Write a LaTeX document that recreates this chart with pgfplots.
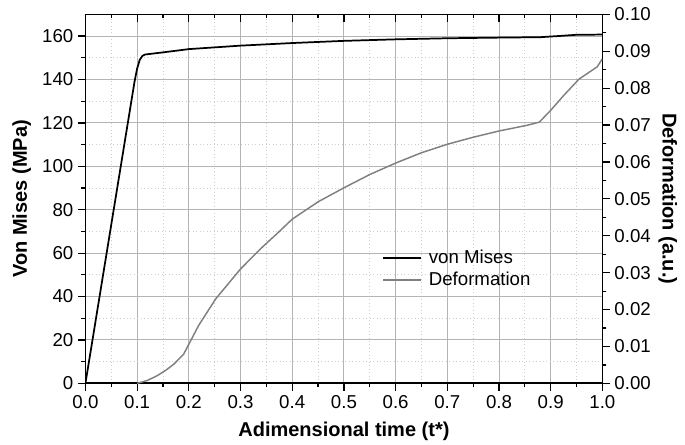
\documentclass[border=0pt]{standalone}
\usepackage{fontspec}
\setmainfont{Liberation Sans}
\usepackage{pgfplots}
\pgfplotsset{compat=1.18}

\definecolor{gridmaj}{RGB}{180,180,180}
\definecolor{gridmin}{RGB}{205,205,205}
\definecolor{defgray}{RGB}{128,128,128}

\pgfplotsset{
  common/.style={
    width=387.75pt, height=276.75pt, scale only axis,
    xmin=0, xmax=1,
    font=\fontsize{14}{16}\selectfont,
    /pgf/number format/assume math mode=true,
    major tick length=5.5pt, minor tick length=3pt,
    every tick/.style={black, line width=0.9pt},
    axis line style={line width=1.3pt},
  },
}

\begin{document}
\begin{tikzpicture}
% left axis, bottom x
\begin{axis}[common,
  ymin=0, ymax=170,
  ytick={0,20,...,160}, minor y tick num=1,
  xtick={0,0.1,...,1.0}, minor x tick num=1,
  xticklabel style={/pgf/number format/.cd,fixed,fixed zerofill,precision=1},
  axis x line*=bottom, axis y line*=left,
  tick align=outside,
  grid=both,
  major grid style={gridmaj, line width=0.7pt},
  minor grid style={gridmin, line width=0.6pt, dotted},
  xlabel={\bfseries\fontsize{15}{17}\selectfont Adimensional time (t*)},
  ylabel={\bfseries\fontsize{15}{17}\selectfont Von Mises (MPa)},
  xlabel style={yshift=-3pt},
  ylabel style={yshift=1.5pt},
  legend style={at={(0.565,0.31)}, anchor=west, draw=none, fill=none,
    row sep=1pt, font=\fontsize{14}{16}\selectfont},
  legend cell align=left,
  legend image code/.code={\draw[#1] (0pt,0pt) -- (29pt,0pt);},
]
\addplot[black, line width=1.3pt] coordinates {
  (0,0) (0.095,139) (0.1,145) (0.105,149) (0.11,150.8) (0.115,151.5)
  (0.15,152.5) (0.2,154) (0.3,155.6) (0.4,156.8) (0.5,157.8) (0.6,158.5)
  (0.7,159) (0.8,159.3) (0.88,159.5) (0.92,160.1) (0.95,160.6) (1.0,160.7)};
\addlegendentry{\hspace{3pt}von Mises}
\addlegendimage{defgray, line width=1.1pt}
\addlegendentry{\hspace{3pt}Deformation}
\end{axis}
% right axis
\begin{axis}[common,
  ymin=0, ymax=0.1,
  ytick={0,0.01,...,0.1}, minor y tick num=1,
  yticklabel style={/pgf/number format/.cd,fixed,fixed zerofill,precision=2},
  axis y line*=right, axis x line=none,
  tick align=outside,
  ylabel={\bfseries\fontsize{15}{17}\selectfont Deformation (a.u.)},
  ylabel style={rotate=180, yshift=-1pt},
]
\addplot[defgray, line width=1.1pt] coordinates {
  (0.1,0) (0.12,0.0008) (0.139,0.0021) (0.155,0.0035) (0.171,0.0052)
  (0.19,0.0079) (0.2,0.0106) (0.219,0.0157) (0.252,0.0229) (0.3,0.031)
  (0.339,0.0365) (0.373,0.0409) (0.4,0.0445) (0.45,0.0492) (0.5,0.053)
  (0.55,0.0566) (0.6,0.0597) (0.65,0.0625) (0.7,0.0648) (0.75,0.0667)
  (0.8,0.0684) (0.853,0.0699) (0.878,0.0708) (0.9,0.074) (0.925,0.078)
  (0.955,0.0825) (0.97,0.0839) (0.99,0.0858) (1.0,0.088)};
\end{axis}
% top axis ticks pointing inward
\begin{axis}[common,
  ymin=0, ymax=1,
  axis y line=none, axis x line*=top,
  xtick={0,0.1,...,1.0}, minor x tick num=1,
  xticklabels={},
  tick align=inside,
]
\end{axis}
% white margin as in the reference
\path (current bounding box.north west) ++(-6pt,2.5pt);
\path (current bounding box.south east) ++(2.5pt,0pt);
\end{tikzpicture}
\end{document}
